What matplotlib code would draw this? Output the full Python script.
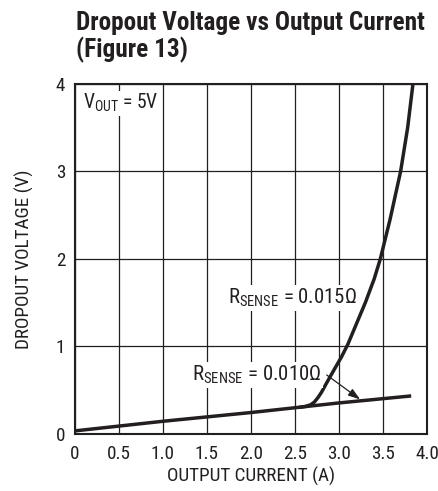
import matplotlib
matplotlib.use("Agg")
import matplotlib.pyplot as plt
from matplotlib import font_manager

names = {f.name for f in font_manager.fontManager.ttflist}
FONT = "DejaVu Sans"
for cand in ["Roboto Condensed", "Archivo Narrow", "PT Sans Narrow", "Liberation Sans Narrow",
             "Barlow Condensed", "Sofia Sans Condensed"]:
    if cand in names:
        FONT = cand
        break
plt.rcParams['font.family'] = [FONT, 'DejaVu Sans']
plt.rcParams['mathtext.fontset'] = 'custom'
plt.rcParams['mathtext.rm'] = FONT
plt.rcParams['mathtext.it'] = FONT
plt.rcParams['mathtext.bf'] = FONT

INK = "#231f20"

# Data
current_010 = [0.0, 1.0, 2.0, 3.0, 3.82]
voltage_010 = [0.03, 0.14, 0.24, 0.35, 0.43]

current_015 = [2.55, 2.62, 2.68, 2.72, 2.76, 2.80, 2.86, 2.95, 3.03, 3.10, 3.20, 3.30, 3.40, 3.47, 3.58, 3.70, 3.78, 3.84, 3.86]
voltage_015 = [0.30, 0.31, 0.33, 0.36, 0.41, 0.47, 0.58, 0.74, 0.88, 1.02, 1.26, 1.50, 1.77, 2.00, 2.45, 3.00, 3.50, 4.00, 4.15]

x_ticks = [0, 0.5, 1.0, 1.5, 2.0, 2.5, 3.0, 3.5, 4.0]
x_tick_labels = ["0", "0.5", "1.0", "1.5", "2.0", "2.5", "3.0", "3.5", "4.0"]
y_ticks = [0, 1, 2, 3, 4]
y_tick_labels = ["0", "1", "2", "3", "4"]

fig = plt.figure(figsize=(4.39, 4.91), dpi=100)
ax = fig.add_axes([0.1708, 0.1171, 0.8019, 0.7118])

ax.set_xlim(0, 4.0)
ax.set_ylim(0, 4.0)
ax.set_xticks(x_ticks)
ax.set_xticklabels(x_tick_labels)
ax.set_yticks(y_ticks)
ax.set_yticklabels(y_tick_labels)
ax.grid(True, color=INK, linewidth=0.9)
ax.set_axisbelow(True)
for s in ax.spines.values():
    s.set_color(INK)
    s.set_linewidth(1.5)

ax.plot(current_010, voltage_010, color=INK, lw=2.5, solid_capstyle='butt')
ax.plot(current_015, voltage_015, color=INK, lw=2.5, solid_capstyle='butt', solid_joinstyle='round')

xl = ax.set_xlabel("OUTPUT CURRENT (A)", fontsize=12, color=INK, labelpad=3)
yl = ax.set_ylabel("DROPOUT VOLTAGE (V)", fontsize=12, color=INK, labelpad=16)

t_v = ax.text(0.09, 3.78, r"V$_{\mathrm{OUT}}$ = 5V", fontsize=12, color=INK, va='center', ha='left',
              bbox=dict(facecolor='white', edgecolor='none', pad=1))
t_15 = ax.text(1.74, 1.55, r"R$_{\mathrm{SENSE}}$ = 0.015Ω", fontsize=12, color=INK, va='center', ha='left',
               bbox=dict(facecolor='white', edgecolor='none', pad=1))
t_10 = ax.text(1.33, 0.67, r"R$_{\mathrm{SENSE}}$ = 0.010Ω", fontsize=12, color=INK, va='center', ha='left',
               bbox=dict(facecolor='white', edgecolor='none', pad=1))
ax.annotate("", xy=(3.24, 0.39), xytext=(2.86, 0.67),
            arrowprops=dict(arrowstyle='-|>,head_length=0.6,head_width=0.2', color=INK, lw=0.9,
                            mutation_scale=12, shrinkA=0, shrinkB=0))

title = fig.text(0.173, 0.978, "Dropout Voltage vs Output Current", fontsize=18,
                 fontweight='bold', color=INK, va='top', ha='left')

# fit text sizes to the widths seen in the reference (pixels)
fig.canvas.draw()
r = fig.canvas.get_renderer()
def fit(t, target, vertical=False):
    bb = t.get_window_extent(r)
    w = bb.height if vertical else bb.width
    t.set_fontsize(t.get_fontsize() * target / w)
fit(title, 348)
fit(xl, 168)
fit(yl, 180, vertical=True)
fit(t_15, 129)
fit(t_10, 130)
fit(t_v, 76)
fs = xl.get_fontsize()
ax.tick_params(axis='x', length=0, labelsize=fs, colors=INK, pad=8)
ax.tick_params(axis='y', length=0, labelsize=fs, colors=INK, pad=7)
fig.canvas.draw()
tb = title.get_window_extent(r)
fig.text(0.173, tb.y0 / fig.bbox.height - 0.003, "(Figure 13)", fontsize=title.get_fontsize(),
         fontweight='bold', color=INK, va='top', ha='left')

fig.savefig("out.png", dpi=100)
